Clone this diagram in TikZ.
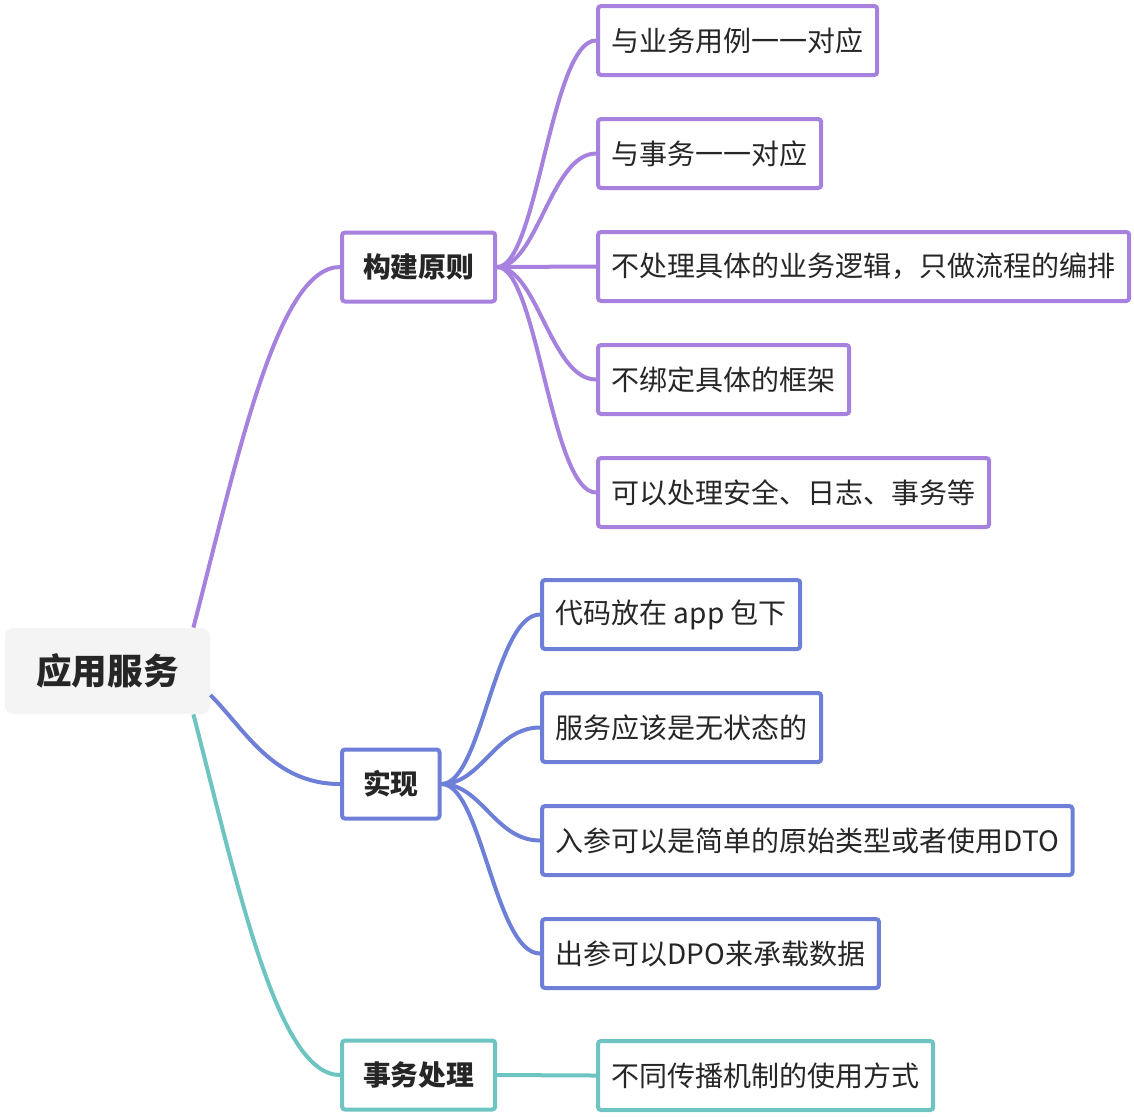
\documentclass[tikz,border=0pt]{standalone}
\usepackage{fontspec}
\setmainfont{Noto Sans CJK SC}
\usepackage{tikz}
\usetikzlibrary{calc}

\definecolor{rulecol}{HTML}{A682DE}
\definecolor{implcol}{HTML}{6E7FD8}
\definecolor{txcol}{HTML}{6EC4C0}
\definecolor{textcol}{HTML}{262626}
\definecolor{rootfill}{HTML}{F4F4F4}

\tikzset{
	leafbox/.style={draw, line width=2pt, rounded corners=1.5pt, fill=white, text=textcol,
		anchor=west, inner xsep=6.8pt, inner ysep=0pt, minimum height=34.5pt,
		font=\fontsize{14pt}{16pt}\selectfont},
	topicbox/.style={leafbox, inner xsep=10.5pt, font=\fontsize{13.9pt}{16pt}\selectfont\bfseries},
	rootbox/.style={fill=rootfill, rounded corners=4pt, text=textcol, inner sep=0pt,
		minimum width=102.5pt, minimum height=43pt, font=\fontsize{17.8pt}{20pt}\selectfont\bfseries},
	link/.style={line width=2pt},
}

\begin{document}
\begin{tikzpicture}[x=0.5pt,y=-0.5pt]
	\useasboundingbox (0,0) rectangle (1134,1116);

	\node[rootbox] (root) at (107.5,671) {应用服务};

	\node[topicbox, draw=rulecol] (rule) at (340,267) {构建原则};
	\node[topicbox, draw=implcol] (impl) at (340,784) {实现};
	\node[topicbox, draw=txcol]   (tx)   at (340,1075) {事务处理};

	\node[leafbox, draw=rulecol] (rule-1) at (596,40.5)  {与业务用例一一对应};
	\node[leafbox, draw=rulecol] (rule-2) at (596,153.5) {与事务一一对应};
	\node[leafbox, draw=rulecol] (rule-3) at (596,266.5) {不处理具体的业务逻辑，只做流程的编排};
	\node[leafbox, draw=rulecol] (rule-4) at (596,379.5) {不绑定具体的框架};
	\node[leafbox, draw=rulecol] (rule-5) at (596,492.5) {可以处理安全、日志、事务等};

	\node[leafbox, draw=implcol] (impl-1) at (540,614.5) {代码放在 app 包下};
	\node[leafbox, draw=implcol] (impl-2) at (540,727.5) {服务应该是无状态的};
	\node[leafbox, draw=implcol] (impl-3) at (540,840.5) {入参可以是简单的原始类型或者使用DTO};
	\node[leafbox, draw=implcol] (impl-4) at (540,953.5) {出参可以DPO来承载数据};

	\node[leafbox, draw=txcol] (tx-1) at (596,1075.5) {不同传播机制的使用方式};

%	root to topics
	\draw[link, rulecol] ($(root.north east)+(-17,0)$) .. controls +(46,-178) and +(-62,0) .. (rule.west);
	\draw[link, implcol] ($(root.east)+(0,24)$) .. controls +(35,35) and +(-67,0) .. (impl.west);
	\draw[link, txcol]   ($(root.south east)+(-17,0)$) .. controls +(46,178) and +(-62,0) .. (tx.west);

%	topics to leaves
	\draw[link, rulecol] (rule.east) .. controls +(40,0) and +(-45,0) .. (rule-1.west);
	\draw[link, rulecol] (rule.east) .. controls +(40,0) and +(-45,0) .. (rule-2.west);
	\draw[link, rulecol] (rule.east) -- (rule-3.west);
	\draw[link, rulecol] (rule.east) .. controls +(40,0) and +(-45,0) .. (rule-4.west);
	\draw[link, rulecol] (rule.east) .. controls +(40,0) and +(-45,0) .. (rule-5.west);

	\draw[link, implcol] (impl.east) .. controls +(40,0) and +(-45,0) .. (impl-1.west);
	\draw[link, implcol] (impl.east) .. controls +(40,0) and +(-45,0) .. (impl-2.west);
	\draw[link, implcol] (impl.east) .. controls +(40,0) and +(-45,0) .. (impl-3.west);
	\draw[link, implcol] (impl.east) .. controls +(40,0) and +(-45,0) .. (impl-4.west);

	\draw[link, txcol] (tx.east) -- (tx-1.west);

\end{tikzpicture}
\end{document}
